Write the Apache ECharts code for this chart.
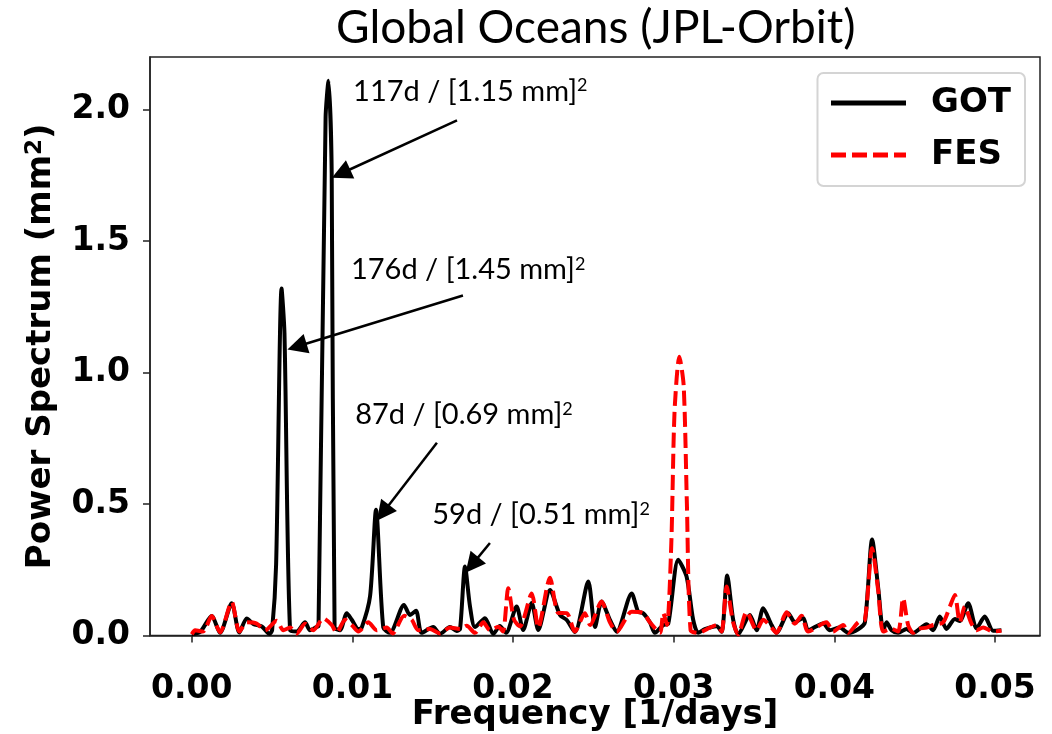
<!DOCTYPE html>
<html>
<head>
<meta charset="utf-8">
<script src="https://cdn.jsdelivr.net/npm/echarts@6/dist/echarts.min.js"></script>
<style>
  html, body { margin: 0; padding: 0; background: #fff; }
  #main { width: 1052px; height: 734px; }
</style>
</head>
<body>
<div id="main"></div>
<script>
// GOT spectrum (frequency in 1/days, power in mm^2)
var gotFreq = [0.0000, 0.00052, 0.00124, 0.00176, 0.00249, 0.00296, 0.00342, 0.00383, 0.00436, 0.00483,
  0.00500, 0.00525, 0.00559, 0.00577, 0.00612, 0.00653, 0.00705, 0.00736, 0.00778, 0.00789,
  0.00833, 0.00851, 0.00871, 0.00889, 0.00923, 0.00965, 0.00996, 0.01037, 0.01058, 0.01110,
  0.01147, 0.01192, 0.01234, 0.01321, 0.01358, 0.01396, 0.01431, 0.01503, 0.01545, 0.01607,
  0.01649, 0.01670, 0.01701, 0.01732, 0.01763, 0.01825, 0.01877, 0.01918, 0.01956, 0.02022,
  0.02063, 0.02116, 0.02157, 0.02230, 0.02292, 0.02334, 0.02385, 0.02468, 0.02510, 0.02551,
  0.02603, 0.02645, 0.02738, 0.02779, 0.02810, 0.02852, 0.02883, 0.02935, 0.02966, 0.03028,
  0.03080, 0.03121, 0.03152, 0.03193, 0.03267, 0.03298, 0.03333, 0.03370, 0.03401, 0.03474,
  0.03516, 0.03557, 0.03609, 0.03640, 0.03713, 0.03754, 0.03806, 0.03837, 0.03930, 0.03972,
  0.04034, 0.04086, 0.04148, 0.04190, 0.04235, 0.04273, 0.04304, 0.04325, 0.04356, 0.04397,
  0.04449, 0.04490, 0.04574, 0.04615, 0.04656, 0.04698, 0.04750, 0.04781, 0.04833, 0.04885,
  0.04936, 0.04988, 0.05040];
var gotPower = [0.005, 0.013, 0.074, 0.010, 0.123, 0.011, 0.065, 0.044, 0.034, 0.006,
  0.02, 0.27, 1.32, 1.15, 0.02, 0.015, 0.050, 0.020, 0.033, 0.035,
  1.97, 2.11, 1.76, 0.03, 0.02, 0.085, 0.06, 0.025, 0.03, 0.15,
  0.478, 0.03, 0.01, 0.116, 0.078, 0.094, 0.01, 0.032, 0.006, 0.032,
  0.017, 0.025, 0.262, 0.11, 0.032, 0.066, 0.006, 0.036, 0.01, 0.11,
  0.021, 0.124, 0.021, 0.173, 0.078, 0.059, 0.013, 0.205, 0.032, 0.129,
  0.059, 0.014, 0.16, 0.09, 0.085, 0.05, 0.01, 0.04, 0.045, 0.288,
  0.224, 0.06, 0.01, 0.024, 0.035, 0.014, 0.228, 0.06, 0.004, 0.078,
  0.02, 0.104, 0.04, 0.01, 0.085, 0.05, 0.067, 0.02, 0.046, 0.02,
  0.03, 0.01, 0.024, 0.05, 0.365, 0.18, 0.02, 0.05, 0.02, 0.01,
  0.025, 0.01, 0.043, 0.02, 0.072, 0.025, 0.063, 0.055, 0.123, 0.027,
  0.072, 0.018, 0.02];

// FES spectrum
var fesFreq = [0.0000, 0.00021, 0.00070, 0.00124, 0.00176, 0.00249, 0.00296, 0.00344, 0.00404, 0.00456,
  0.00529, 0.00570, 0.00612, 0.00653, 0.00705, 0.00757, 0.00819, 0.00871, 0.00902, 0.00954,
  0.00996, 0.01037, 0.01099, 0.01151, 0.01213, 0.01250, 0.01322, 0.01369, 0.01410, 0.01483,
  0.01545, 0.01607, 0.01670, 0.01711, 0.01763, 0.01815, 0.01856, 0.01908, 0.01937, 0.01970,
  0.02006, 0.02043, 0.02116, 0.02157, 0.02230, 0.02281, 0.02334, 0.02385, 0.02447, 0.02479,
  0.02551, 0.02603, 0.02645, 0.02738, 0.02810, 0.02852, 0.02914, 0.02935, 0.02958, 0.02985,
  0.03005, 0.03035, 0.03062, 0.03082, 0.03105, 0.03152, 0.03225, 0.03267, 0.03298, 0.03329,
  0.03370, 0.03401, 0.03454, 0.03516, 0.03557, 0.03609, 0.03640, 0.03703, 0.03754, 0.03796,
  0.03837, 0.03951, 0.03992, 0.04055, 0.04086, 0.04148, 0.04190, 0.04235, 0.04273, 0.04304,
  0.04356, 0.04397, 0.04428, 0.04459, 0.04490, 0.04521, 0.04574, 0.04615, 0.04677, 0.04719,
  0.04750, 0.04781, 0.04812, 0.04850, 0.04885, 0.04926, 0.04988, 0.05040];
var fesPower = [0.005, 0.02, 0.015, 0.074, 0.012, 0.128, 0.015, 0.05, 0.045, 0.02,
  0.056, 0.02, 0.03, 0.008, 0.045, 0.02, 0.065, 0.04, 0.01, 0.06,
  0.04, 0.015, 0.05, 0.02, 0.03, 0.008, 0.075, 0.06, 0.02, 0.025,
  0.008, 0.03, 0.025, 0.037, 0.01, 0.05, 0.02, 0.033, 0.015, 0.18,
  0.06, 0.035, 0.16, 0.03, 0.22, 0.086, 0.085, 0.015, 0.085, 0.04,
  0.129, 0.05, 0.014, 0.09, 0.085, 0.05, 0.01, 0.085, 0.04, 0.35,
  0.85, 1.06, 0.95, 0.5, 0.02, 0.01, 0.03, 0.04, 0.015, 0.186,
  0.05, 0.004, 0.09, 0.02, 0.06, 0.03, 0.01, 0.088, 0.045, 0.075,
  0.015, 0.05, 0.015, 0.04, 0.01, 0.05, 0.06, 0.332, 0.17, 0.015,
  0.025, 0.015, 0.142, 0.04, 0.01, 0.025, 0.03, 0.04, 0.05, 0.11,
  0.154, 0.05, 0.11, 0.05, 0.02, 0.03, 0.015, 0.018];

var xTicks = [0, 0.01, 0.02, 0.03, 0.04, 0.05];
var yTicks = [0, 0.5, 1.0, 1.5, 2.0];

// peak annotations: label, text position, arrow start, arrow tip (data units)
var noteLabels = ["117d / [1.15 mm]", "176d / [1.45 mm]", "87d / [0.69 mm]", "59d / [0.51 mm]"];
var noteTextX = [0.01004, 0.00991, 0.01017, 0.01497];
var noteTextY = [2.07, 1.39, 0.84, 0.459];
var arrowFromX = [0.01651, 0.01688, 0.01526, 0.01856];
var arrowFromY = [1.959, 1.293, 0.733, 0.352];
var arrowToX = [0.00929, 0.00655, 0.0119, 0.01744];
var arrowToY = [1.757, 1.099, 0.4665, 0.2685];

function pairs(xs, ys) {
  return xs.map(function(x, i) { return [x, ys[i]]; });
}

var tickFont = { fontFamily: "DejaVu Sans", fontWeight: "bold", fontSize: 33, color: "#000" };

var myChart = echarts.init(document.getElementById("main"));
var option = {
  animation: false,
  backgroundColor: "#fff",
  graphic: [
    {
      type: "text",
      left: 336,
      top: 5,
      style: {
        text: "Global Oceans (JPL-Orbit)",
        fontFamily: "Lato",
        fontSize: 46,
        fill: "#000"
      }
    }
  ],
  grid: {
    left: 150, right: 12, top: 57, bottom: 98.5,
    outerBoundsMode: "none",
    containLabel: false,
    show: true, borderColor: "#222", borderWidth: 1.5, backgroundColor: "transparent"
  },
  legend: {
    data: ["GOT", "FES"],
    orient: "vertical",
    right: 27,
    top: 73,
    padding: [13, 14, 14, 11],
    itemWidth: 75,
    itemHeight: 34,
    itemGap: 18,
    borderColor: "#d4d4d4",
    borderWidth: 2,
    borderRadius: 6,
    backgroundColor: "#fff",
    itemStyle: { opacity: 0 },
    lineStyle: { width: 5 },
    textStyle: { fontFamily: "DejaVu Sans", fontWeight: "bold", fontSize: 34, color: "#000", padding: [0, 0, 0, 20] }
  },
  xAxis: {
    type: "value",
    min: -0.0026,
    max: 0.0528,
    name: "Frequency [1/days]",
    nameLocation: "middle",
    nameGap: 63,
    nameMoveOverlap: false,
    nameTextStyle: { fontFamily: "DejaVu Sans", fontWeight: "bold", fontSize: 34, color: "#000" },
    axisLine: { show: true, lineStyle: { color: "#222", width: 1.5 } },
    axisTick: { show: true, customValues: xTicks, length: 7, lineStyle: { color: "#222", width: 1.5 } },
    axisLabel: Object.assign({ customValues: xTicks, margin: 37, formatter: function(v) { return v.toFixed(2); } }, tickFont),
    splitLine: { show: false }
  },
  yAxis: {
    type: "value",
    min: 0,
    max: 2.2,
    name: "{a|Power Spectrum (mm}{s|2}{a|)}",
    nameLocation: "middle",
    nameRotate: 90,
    nameGap: 92,
    nameMoveOverlap: false,
    nameTextStyle: {
      rich: {
        a: { fontFamily: "DejaVu Sans", fontWeight: "bold", fontSize: 34, color: "#000" },
        s: { fontFamily: "DejaVu Sans", fontWeight: "bold", fontSize: 23, color: "#000", verticalAlign: "top" }
      }
    },
    axisLine: { show: true, onZero: false, lineStyle: { color: "#222", width: 1.5 } },
    axisTick: { show: true, customValues: yTicks, length: 7, lineStyle: { color: "#222", width: 1.5 } },
    axisLabel: Object.assign({ customValues: yTicks, margin: 20, formatter: function(v) { return v.toFixed(1); } }, tickFont),
    splitLine: { show: false }
  },
  series: [
    {
      name: "GOT",
      type: "line",
      data: pairs(gotFreq, gotPower),
      showSymbol: false,
      symbol: "none",
      smooth: 0.25,
      color: "#000",
      lineStyle: { color: "#000", width: 4 },
      z: 2,
      markLine: {
        silent: true,
        symbol: ["none", "triangle"],
        symbolSize: 20,
        label: { show: false },
        lineStyle: { color: "#000", width: 2.5, type: "solid" },
        itemStyle: { color: "#000" },
        data: arrowFromX.map(function(x, i) {
          return [{ coord: [x, arrowFromY[i]] }, { coord: [arrowToX[i], arrowToY[i]] }];
        })
      },
      markPoint: {
        silent: true,
        symbol: "circle",
        symbolSize: 0,
        data: noteLabels.map(function(t, i) {
          return {
            coord: [noteTextX[i], noteTextY[i]],
            label: {
              show: true,
              position: "right",
              distance: 0,
              formatter: "{a|" + t + "}{s|2}",
              rich: {
                a: { fontFamily: "Lato", fontSize: 29, color: "#000" },
                s: { fontFamily: "Lato", fontSize: 18, color: "#000", verticalAlign: "top" }
              }
            }
          };
        })
      }
    },
    {
      name: "FES",
      type: "line",
      data: pairs(fesFreq, fesPower),
      showSymbol: false,
      symbol: "none",
      smooth: 0.25,
      color: "#ff0000",
      lineStyle: { color: "#ff0000", width: 4, type: [15, 6] },
      z: 3
    }
  ]
};
myChart.setOption(option);
</script>
</body>
</html>
